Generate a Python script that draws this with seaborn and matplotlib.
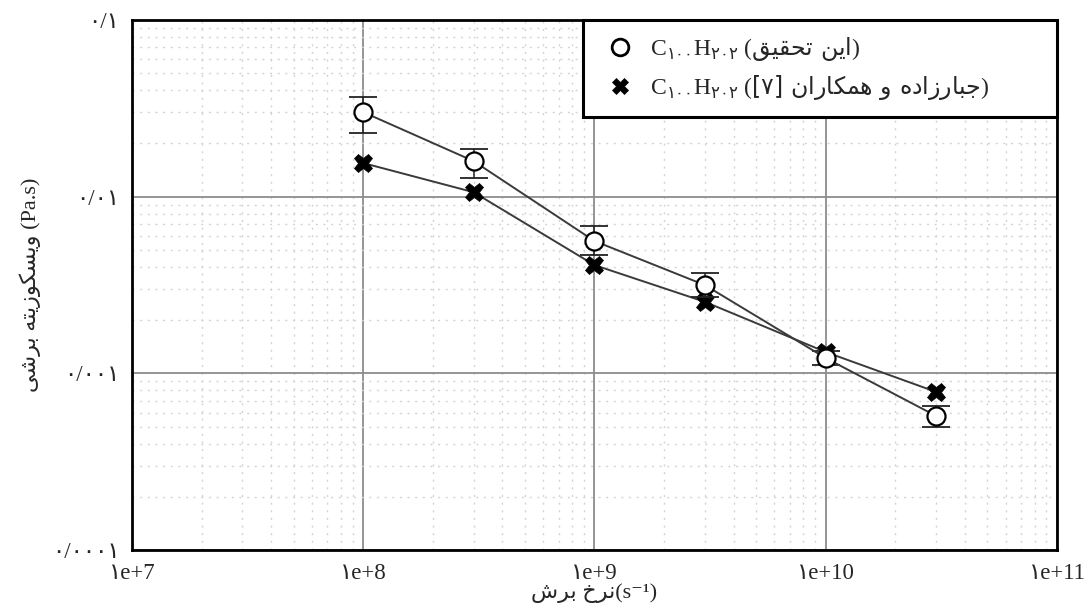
#! /usr/bin/env python3
# coding: utf-8
"""
Shear viscosity vs shear rate (log-log), C100H202, this study vs Jabbarzadeh et al.

Output:
  - out.png
"""
import numpy as np
import pandas as pd
import matplotlib
matplotlib.use('Agg')
import matplotlib.pyplot as plt
import seaborn as sns
from matplotlib.lines import Line2D

# data
shear_rate = [1e8, 3e8, 1e9, 3e9, 1e10, 3e10]
visc_this_study = [0.0301, 0.0159, 0.00561, 0.00316, 0.00122, 0.000574]
visc_this_low = [0.0229, 0.0128, 0.0047, 0.0027, 0.00111, 0.00050]
visc_this_high = [0.0367, 0.0186, 0.00682, 0.0037, 0.00134, 0.00065]
visc_jabbarzadeh = [0.0155, 0.0106, 0.0041, 0.00254, 0.00132, 0.000785]

x_ticks = [1e7, 1e8, 1e9, 1e10, 1e11]
x_tick_labels = ['۱e+7', '۱e+8', '۱e+9', '۱e+10', '۱e+11']
y_ticks = [1e-4, 1e-3, 1e-2, 1e-1]
y_tick_labels = ['۰/۰۰۰۱', '۰/۰۰۱', '۰/۰۱', '۰/۱']

# Arabic presentation forms: (isolated, final, initial, medial)
FORMS = {
    'ا': ('\uFE8D', '\uFE8E', None, None),
    'ب': ('\uFE8F', '\uFE90', '\uFE91', '\uFE92'),
    'ت': ('\uFE95', '\uFE96', '\uFE97', '\uFE98'),
    'ج': ('\uFE9D', '\uFE9E', '\uFE9F', '\uFEA0'),
    'ح': ('\uFEA1', '\uFEA2', '\uFEA3', '\uFEA4'),
    'خ': ('\uFEA5', '\uFEA6', '\uFEA7', '\uFEA8'),
    'د': ('\uFEA9', '\uFEAA', None, None),
    'ر': ('\uFEAD', '\uFEAE', None, None),
    'ز': ('\uFEAF', '\uFEB0', None, None),
    'س': ('\uFEB1', '\uFEB2', '\uFEB3', '\uFEB4'),
    'ش': ('\uFEB5', '\uFEB6', '\uFEB7', '\uFEB8'),
    'ق': ('\uFED5', '\uFED6', '\uFED7', '\uFED8'),
    'م': ('\uFEE1', '\uFEE2', '\uFEE3', '\uFEE4'),
    'ن': ('\uFEE5', '\uFEE6', '\uFEE7', '\uFEE8'),
    'ه': ('\uFEE9', '\uFEEA', '\uFEEB', '\uFEEC'),
    'و': ('\uFEED', '\uFEEE', None, None),
    'ک': ('\uFB8E', '\uFB8F', '\uFB90', '\uFB91'),
    'ی': ('\uFBFC', '\uFBFD', '\uFBFE', '\uFBFF'),
}


def shape(text: str) -> str:
    out = []
    for i, ch in enumerate(text):
        if ch not in FORMS:
            out.append(ch)
            continue
        prev = text[i - 1] if i > 0 else ''
        nxt = text[i + 1] if i + 1 < len(text) else ''
        join_prev = prev in FORMS and FORMS[prev][2] is not None
        join_next = nxt in FORMS and FORMS[ch][2] is not None
        iso, fin, ini, med = FORMS[ch]
        if join_prev and join_next:
            out.append(med)
        elif join_prev:
            out.append(fin)
        elif join_next:
            out.append(ini)
        else:
            out.append(iso)
    return ''.join(out)


def rtl(text: str) -> str:
    return shape(text)[::-1]


def rtl_math(text: str, prefix: str = '') -> str:
    body = (prefix + rtl(text)).replace(' ', r'\ ')
    return r'$\mathrm{' + body + '}$'


formula = r'C$_{\mathrm{۱۰۰}}$H$_{\mathrm{۲۰۲}}$'
label_this = formula + ' (' + rtl_math('این تحقیق') + ')'
label_jabb = formula + ' (' + rtl_math('جبارزاده و همکاران', '[۷] ') + ')'

sns.set_style('white')
plt.rcParams['font.family'] = ['Liberation Serif', 'DejaVu Sans']
plt.rcParams['mathtext.fontset'] = 'custom'
plt.rcParams['mathtext.rm'] = 'DejaVu Sans'
plt.rcParams['mathtext.default'] = 'rm'

fig = plt.figure(figsize=(10.88, 6.12), dpi=100)
ax = fig.add_axes([0.1213, 0.1013, 0.8502, 0.866])
ax.set_xscale('log')
ax.set_yscale('log')

line_col = '#3a3a3a'
sns.lineplot(x=shear_rate, y=visc_jabbarzadeh, ax=ax, color=line_col, lw=1.4,
             marker='X', markersize=13, markerfacecolor='black',
             markeredgecolor='black', markeredgewidth=0.5, zorder=3)
lo = np.array(visc_this_study) - np.array(visc_this_low)
hi = np.array(visc_this_high) - np.array(visc_this_study)
ax.errorbar(shear_rate, visc_this_study, yerr=[lo, hi], fmt='none',
            ecolor='#222222', elinewidth=1.1, capsize=10, capthick=1.3, zorder=4)
sns.lineplot(x=shear_rate, y=visc_this_study, ax=ax, color=line_col, lw=1.4,
             marker='o', markersize=13, markerfacecolor='white',
             markeredgecolor='black', markeredgewidth=1.6, zorder=5)

ax.set_xlim(1e7, 1e11)
ax.set_ylim(1e-4, 1e-1)
ax.set_xticks(x_ticks)
ax.set_xticklabels(x_tick_labels)
ax.set_yticks(y_ticks)
ax.set_yticklabels(y_tick_labels)

ax.set_axisbelow(True)
ax.grid(which='major', color='#8c8c8c', linewidth=1.3, linestyle='-')
ax.grid(which='minor', color='#d4d4d4', linewidth=1.0, linestyle=(0, (1.5, 4)))
ax.tick_params(which='major', length=6, color='#888888', labelsize=16.5,
               direction='out', pad=3)
ax.tick_params(which='minor', length=0)
for sp in ax.spines.values():
    sp.set_color('black')
    sp.set_linewidth(2.0)

ax.set_xlabel(rtl('نرخ برش') + '(s⁻¹)', fontsize=16, labelpad=0)
ax.set_ylabel(rtl('ویسکوزیته برشی') + ' (Pa.s)', fontsize=16, labelpad=8)

handles = [
    Line2D([], [], ls='none', marker='o', markersize=12, markerfacecolor='white',
           markeredgecolor='black', markeredgewidth=2.0),
    Line2D([], [], ls='none', marker='X', markersize=11, markerfacecolor='black',
           markeredgecolor='black', markeredgewidth=0.5),
]
leg = ax.legend(handles, [label_this, label_jabb], loc='upper left',
                bbox_to_anchor=(0.4876, 0.817, 0.5124, 0.183), mode='expand',
                borderaxespad=0, fontsize=17, frameon=True, fancybox=False,
                framealpha=1, edgecolor='black', borderpad=0.65,
                labelspacing=0.4, handletextpad=0.4, handlelength=1.8)
leg.get_frame().set_linewidth(2.2)

plt.savefig('out.png', dpi=100)
